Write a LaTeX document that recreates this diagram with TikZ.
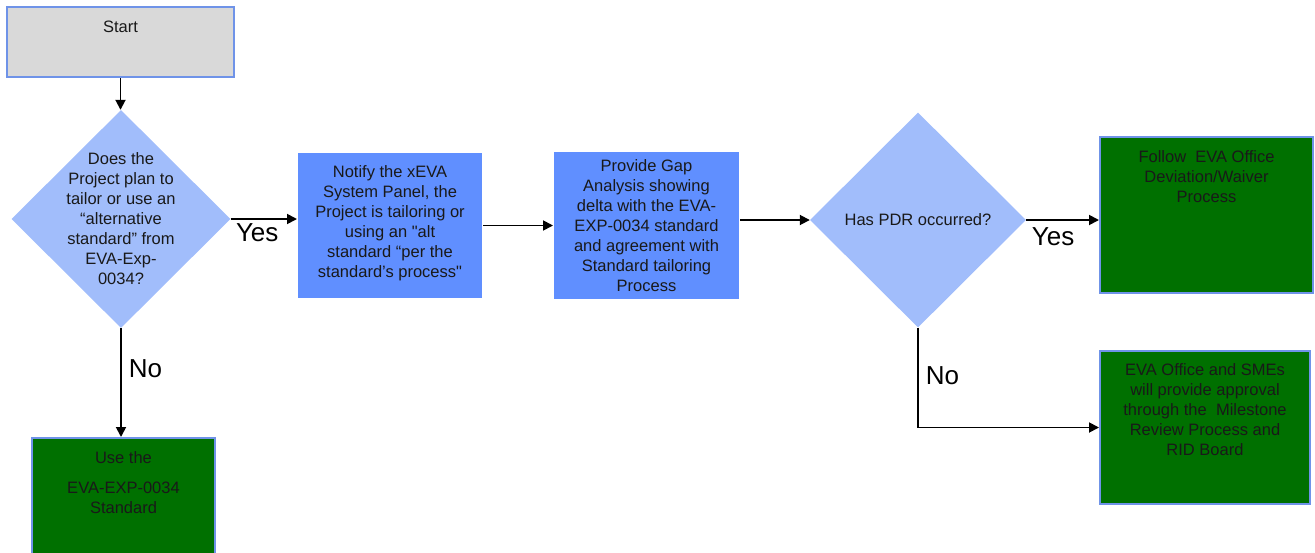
\documentclass[tikz,border=0pt]{standalone}
\usepackage{fontspec}
\setmainfont{Liberation Sans}[Ligatures=TeXOff]
\usepackage{tikz}
\usepackage{color}
\usetikzlibrary{arrows.meta}
\usetikzlibrary{shapes.geometric}

\definecolor{rim}{RGB}{111,147,232}
\definecolor{startgray}{RGB}{217,217,217}
\definecolor{decide}{RGB}{161,189,251}
\definecolor{stepblue}{RGB}{96,143,255}
\definecolor{done}{RGB}{0,112,0}

\begin{document}
\begin{tikzpicture}[x=1pt,y=-1pt]
      \tikzstyle{every node} = [inner sep = 4pt]
      \tikzstyle{box} = [draw=rim, line width=2pt, rectangle]
      \tikzstyle{txt} = [anchor=north, align=center, text=black!90, font=\fontsize{16.5}{20}\selectfont]
      \tikzstyle{ask} = [diamond, fill=decide, inner sep=0pt]
      \tikzstyle{conn} = [line width=1.8pt, -{Triangle[length=10pt,width=10pt]}]
      \tikzstyle{ans} = [font=\fontsize{26}{28}\selectfont]
      \useasboundingbox (0,0) rectangle (1315,552);
      % boxes
      \node[box, fill=startgray, minimum width=227pt, minimum height=70pt] (start) at (120.5,42) {};
      \node[txt, yshift=-11pt] (startt) at (start.north) {Start};
      \node[ask, minimum width=219pt, minimum height=218pt] (q1) at (121,219) {};
      \node[txt, anchor=center] (q1t) at (q1) {Does the\\ Project plan to\\ tailor or use an\\ “alternative\\ standard”\ from\\ EVA-Exp-\\ 0034?};
      \node[box, draw=none, fill=stepblue, minimum width=184pt, minimum height=145pt] (notify) at (390,225.5) {};
      \node[txt, yshift=-9pt] (notifyt) at (notify.north) {Notify the xEVA\\ System Panel, the\\ Project is tailoring or\\ using an "alt\\ standard “per the\\ standard’s process"};
      \node[box, draw=none, fill=stepblue, minimum width=185pt, minimum height=147pt] (gap) at (646.5,225.5) {};
      \node[txt, yshift=-4pt] (gapt) at (gap.north) {Provide Gap\\ Analysis showing\\ delta with the EVA-\\ EXP-0034 standard\\ and agreement with\\ Standard tailoring\\ Process};
      \node[ask, minimum width=216pt, minimum height=215pt] (q2) at (918,220) {};
      \node[txt, anchor=center] (q2t) at (q2) {Has PDR occurred?};
      \node[box, fill=done, minimum width=213pt, minimum height=156pt] (follow) at (1206.5,215) {};
      \node[txt, yshift=-10pt] (followt) at (follow.north) {Follow \ EVA Office\\ Deviation/Waiver\\ Process};
      \node[box, fill=done, minimum width=210pt, minimum height=153pt] (approve) at (1205,427.5) {};
      \node[txt, yshift=-9pt] (approvet) at (approve.north) {EVA Office and SMEs\\ will provide approval\\ through the \ Milestone\\ Review Process and\\ RID Board};
      \node[box, fill=done, minimum width=183pt, minimum height=150pt] (use) at (123.5,513) {};
      \node[txt, yshift=-10pt] (uset) at (use.north) {Use the\\[10pt] EVA-EXP-0034\\ Standard};
      % connectors
      \draw[conn] (start.south) -- (start.south |- q1.north);
      \draw[conn] (q1.east) -- node[ans, below, pos=0.4] (yes1) {Yes} (q1.east -| notify.west);
      \draw[conn] (notify) -- (gap);
      \draw[conn] (gap.east |- q2.west) -- (q2.west);
      \draw[conn] (q2.east) -- node[ans, below, pos=0.37, yshift=-3pt] (yes2) {Yes} (q2.east -| follow.west);
      \draw[conn] (q1.south) -- node[ans, right, pos=0.37, xshift=3pt] (no1) {No} (q1.south |- use.north);
      \draw[conn] (q2.south) |- node[ans, right, pos=0.24, xshift=3pt] (no2) {No} (approve.west);
    \end{tikzpicture}
\end{document}
